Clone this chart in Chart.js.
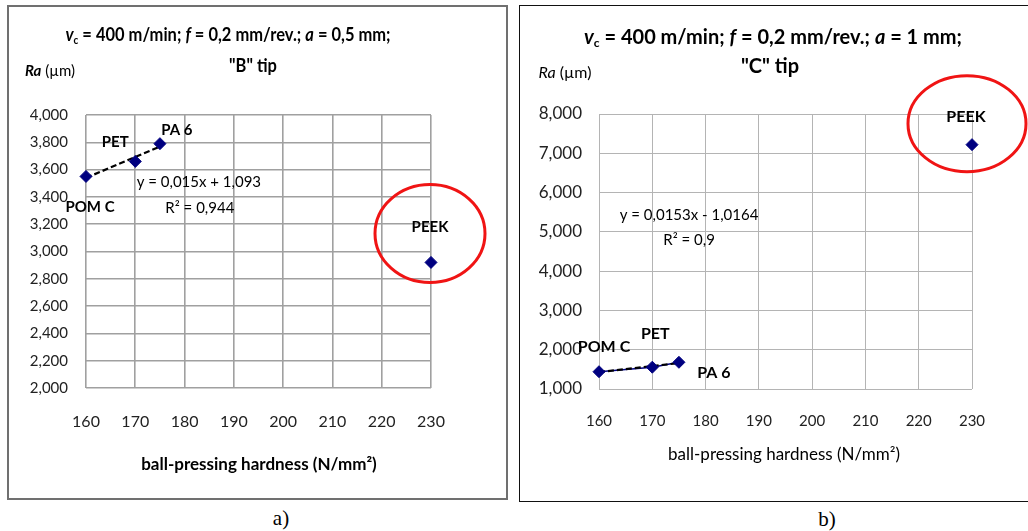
<!DOCTYPE html>
<html>
<head>
<meta charset="utf-8">
<script src="https://cdn.jsdelivr.net/npm/chart.js@4.4.1/dist/chart.umd.min.js"></script>
<style>
  html, body { margin: 0; padding: 0; background: #fff; }
  body { width: 1028px; height: 531px; overflow: hidden; position: relative; font-family: Lato, "Open Sans", sans-serif; }
  .panel { position: absolute; box-sizing: border-box; }
  #panelB { left: 7px; top: 5px; width: 501px; height: 495px; border: 2px solid #707070; }
  #panelC { left: 519px; top: 5px; width: 530px; height: 497px; border: 1.5px solid #111; }
  canvas { position: absolute; }
  #chartB { left: 9px; top: 7px; }
  #chartC { left: 521px; top: 7px; }
  .t { position: absolute; white-space: nowrap; transform: translate(-50%, -50%); color: #000; line-height: 1; }
  .title { font-weight: 700; }
  .cap { font-family: "Liberation Serif", "DejaVu Serif", serif; font-size: 21px; }
  sub { font-size: 0.6em; vertical-align: -0.25em; }
</style>
</head>
<body>
<div class="panel" id="panelB"></div>
<div class="panel" id="panelC"></div>
<canvas id="chartB" width="496" height="490"></canvas>
<canvas id="chartC" width="507" height="492"></canvas>

<!-- chart a) headings -->
<div class="t title" style="left:228px;top:35px;font-size:17px;transform:translate(-50%,-50%) scale(0.97,1.1);"><i>v</i><sub>c</sub> = 400 m/min; <i>f</i> = 0,2 mm/rev.; <i>a</i> = 0,5 mm;</div>
<div class="t title" style="left:253px;top:65px;font-size:17px;transform:translate(-50%,-50%) scale(0.97,1.1);">"B" tip</div>
<div class="t" style="left:50px;top:70px;font-size:15px;"><b><i>Ra</i></b> (µm)</div>
<div class="t" style="left:259px;top:463px;font-size:17px;font-weight:700;">ball-pressing hardness (N/mm²)</div>
<div class="t cap" style="left:281px;top:518px;">a)</div>

<!-- chart b) headings -->
<div class="t title" style="left:773px;top:37px;font-size:20px;"><i>v</i><sub>c</sub> = 400 m/min; <i>f</i> = 0,2 mm/rev.; <i>a</i> = 1 mm;</div>
<div class="t title" style="left:770px;top:65px;font-size:20px;">"C" tip</div>
<div class="t" style="left:565px;top:72px;font-size:16px;"><i>Ra</i> (µm)</div>
<div class="t" style="left:784px;top:453px;font-size:17px;">ball-pressing hardness (N/mm²)</div>
<div class="t cap" style="left:827px;top:519px;">b)</div>

<script>
// Surface roughness Ra (µm) against ball-pressing hardness (N/mm²)
const materials = ['POM C', 'PET', 'PA 6', 'PEEK'];
const hardness  = [160, 170, 175, 230];
const raTipB    = [3.55, 3.66, 3.79, 2.92];   // a = 0,5 mm, "B" tip
const raTipC    = [1.44, 1.555, 1.68, 7.22];  // a = 1 mm, "C" tip

// trend lines are fitted over the first three materials (PEEK excluded)
const trendCount = 3;
const trendTextB = ['y = 0,015x + 1,093', 'R² = 0,944'];
const trendTextC = ['y = 0,0153x - 1,0164', 'R² = 0,9'];

const xTicks = [160, 170, 180, 190, 200, 210, 220, 230];

function fitLine(xs, ys) {
  const n = xs.length;
  const mx = xs.reduce((a, b) => a + b, 0) / n;
  const my = ys.reduce((a, b) => a + b, 0) / n;
  let sxy = 0, sxx = 0;
  for (let i = 0; i < n; i++) { sxy += (xs[i] - mx) * (ys[i] - my); sxx += (xs[i] - mx) ** 2; }
  const slope = sxy / sxx;
  return { slope, intercept: my - slope * mx };
}

function pts(xs, ys) { return xs.map((x, i) => ({ x, y: ys[i] })); }

const navy = '#000080';
const fmt3 = v => Number(v).toFixed(3).replace('.', ',');

// draws the red ring round PEEK, the material labels and the trend equation
const annotate = {
  id: 'annotate',
  afterDatasetsDraw(chart, args, o) {
    const { ctx, scales: { x, y } } = chart;
    ctx.save();
    // ring
    const px = x.getPixelForValue(o.ring.x), py = y.getPixelForValue(o.ring.y);
    ctx.beginPath();
    ctx.ellipse(px + o.ring.dx, py + o.ring.dy, o.ring.rx, o.ring.ry, 0, 0, Math.PI * 2);
    ctx.strokeStyle = '#f01414';
    ctx.lineWidth = 3;
    ctx.stroke();
    // material labels
    ctx.fillStyle = '#000';
    ctx.textAlign = 'center';
    ctx.textBaseline = 'middle';
    ctx.font = o.labelFont;
    o.labels.forEach((lab, i) => {
      const p = o.offsets[i];
      ctx.fillText(lab, x.getPixelForValue(o.xs[i]) + p[0], y.getPixelForValue(o.ys[i]) + p[1]);
    });
    // trend equation
    ctx.font = o.eqFont;
    o.eq.forEach((line, i) => {
      ctx.fillText(line, x.getPixelForValue(o.eqAt[i][0]), y.getPixelForValue(o.eqAt[i][1]));
    });
    ctx.restore();
  }
};

function makeChart(id, ys, cfg) {
  const fit = fitLine(hardness.slice(0, trendCount), ys.slice(0, trendCount));
  const tx = [hardness[0], hardness[trendCount - 1]];
  const datasets = [
    {
      data: pts(hardness, ys), showLine: false, order: 0, clip: false,
      pointStyle: 'rectRot', pointRadius: 6, pointHoverRadius: 6,
      backgroundColor: navy, borderColor: navy, borderWidth: 1
    },
    {
      data: pts(tx, tx.map(v => fit.slope * v + fit.intercept)), showLine: true, order: 1,
      borderColor: '#000', borderWidth: 2.2, borderDash: [6, 3], pointRadius: 0, clip: false
    }
  ];
  if (cfg.joinPoints) {
    datasets.push({
      data: pts(hardness.slice(0, trendCount), ys.slice(0, trendCount)), showLine: true, order: 2,
      borderColor: navy, borderWidth: 1.5, pointRadius: 0, clip: false
    });
  }
  return new Chart(document.getElementById(id), {
    type: 'scatter',
    data: { datasets },
    options: {
      responsive: false, animation: false, events: [],
      layout: { padding: cfg.padding },
      plugins: {
        legend: { display: false }, tooltip: { enabled: false }, title: { display: false },
        annotate: cfg.annotate
      },
      scales: {
        x: {
          type: 'linear', min: 160, max: 230,
          afterBuildTicks: s => { s.ticks = xTicks.map(v => ({ value: v })); },
          afterFit: s => { s.height = cfg.xHeight; },
          border: { display: false },
          grid: { color: cfg.gridColor, lineWidth: cfg.gridWidth, drawTicks: false },
          ticks: { autoSkip: false, maxRotation: 0, padding: cfg.xPad, color: '#222', font: cfg.xFont }
        },
        y: {
          min: cfg.yMin, max: cfg.yMax,
          ticks: { stepSize: cfg.yStep, padding: cfg.yPad, color: '#222', font: cfg.yFont, callback: fmt3 },
          afterFit: s => { s.width = cfg.yWidth; },
          border: { display: false },
          grid: { color: cfg.gridColor, lineWidth: cfg.gridWidth, drawTicks: false }
        }
      }
    },
    plugins: [annotate]
  });
}

makeChart('chartB', raTipB, {
  padding: { left: 0, right: 74, top: 108, bottom: 0 },
  xHeight: 109, yWidth: 77, xPad: 24, yPad: 18,
  yMin: 2, yMax: 4, yStep: 0.2,
  gridColor: '#a0a0a0', gridWidth: 1.6,
  xFont: { family: 'Lato, "Open Sans", sans-serif', size: 16 },
  yFont: { family: 'Lato, "Open Sans", sans-serif', size: 15 },
  joinPoints: false,
  annotate: {
    ring: { x: 230, y: raTipB[3], dx: -1, dy: -29, rx: 55, ry: 49 },
    labels: materials, xs: hardness, ys: raTipB,
    offsets: [[4, 31], [-20, -19], [17, -14], [-1, -35]],
    labelFont: 'bold 15px Lato, "Open Sans", sans-serif',
    eq: trendTextB, eqAt: [[182.9, 3.51], [183.1, 3.32]],
    eqFont: '15px Lato, "Open Sans", sans-serif'
  }
});

makeChart('chartC', raTipC, {
  padding: { left: 0, right: 56, top: 107, bottom: 0 },
  xHeight: 110, yWidth: 78, xPad: 23, yPad: 17,
  yMin: 1, yMax: 8, yStep: 1,
  gridColor: '#b4b4b4', gridWidth: 1,
  xFont: { family: 'Lato, "Open Sans", sans-serif', size: 15 },
  yFont: { family: 'Lato, "Open Sans", sans-serif', size: 17 },
  joinPoints: true,
  annotate: {
    ring: { x: 230, y: raTipC[3], dx: -5, dy: -21, rx: 59, ry: 48 },
    labels: materials, xs: hardness, ys: raTipC,
    offsets: [[5, -25], [3, -33], [35, 11], [-6, -28]],
    labelFont: 'bold 16px Lato, "Open Sans", sans-serif',
    eq: trendTextC, eqAt: [[176.9, 5.42], [176.9, 4.78]],
    eqFont: '15px Lato, "Open Sans", sans-serif'
  }
});
</script>
</body>
</html>
